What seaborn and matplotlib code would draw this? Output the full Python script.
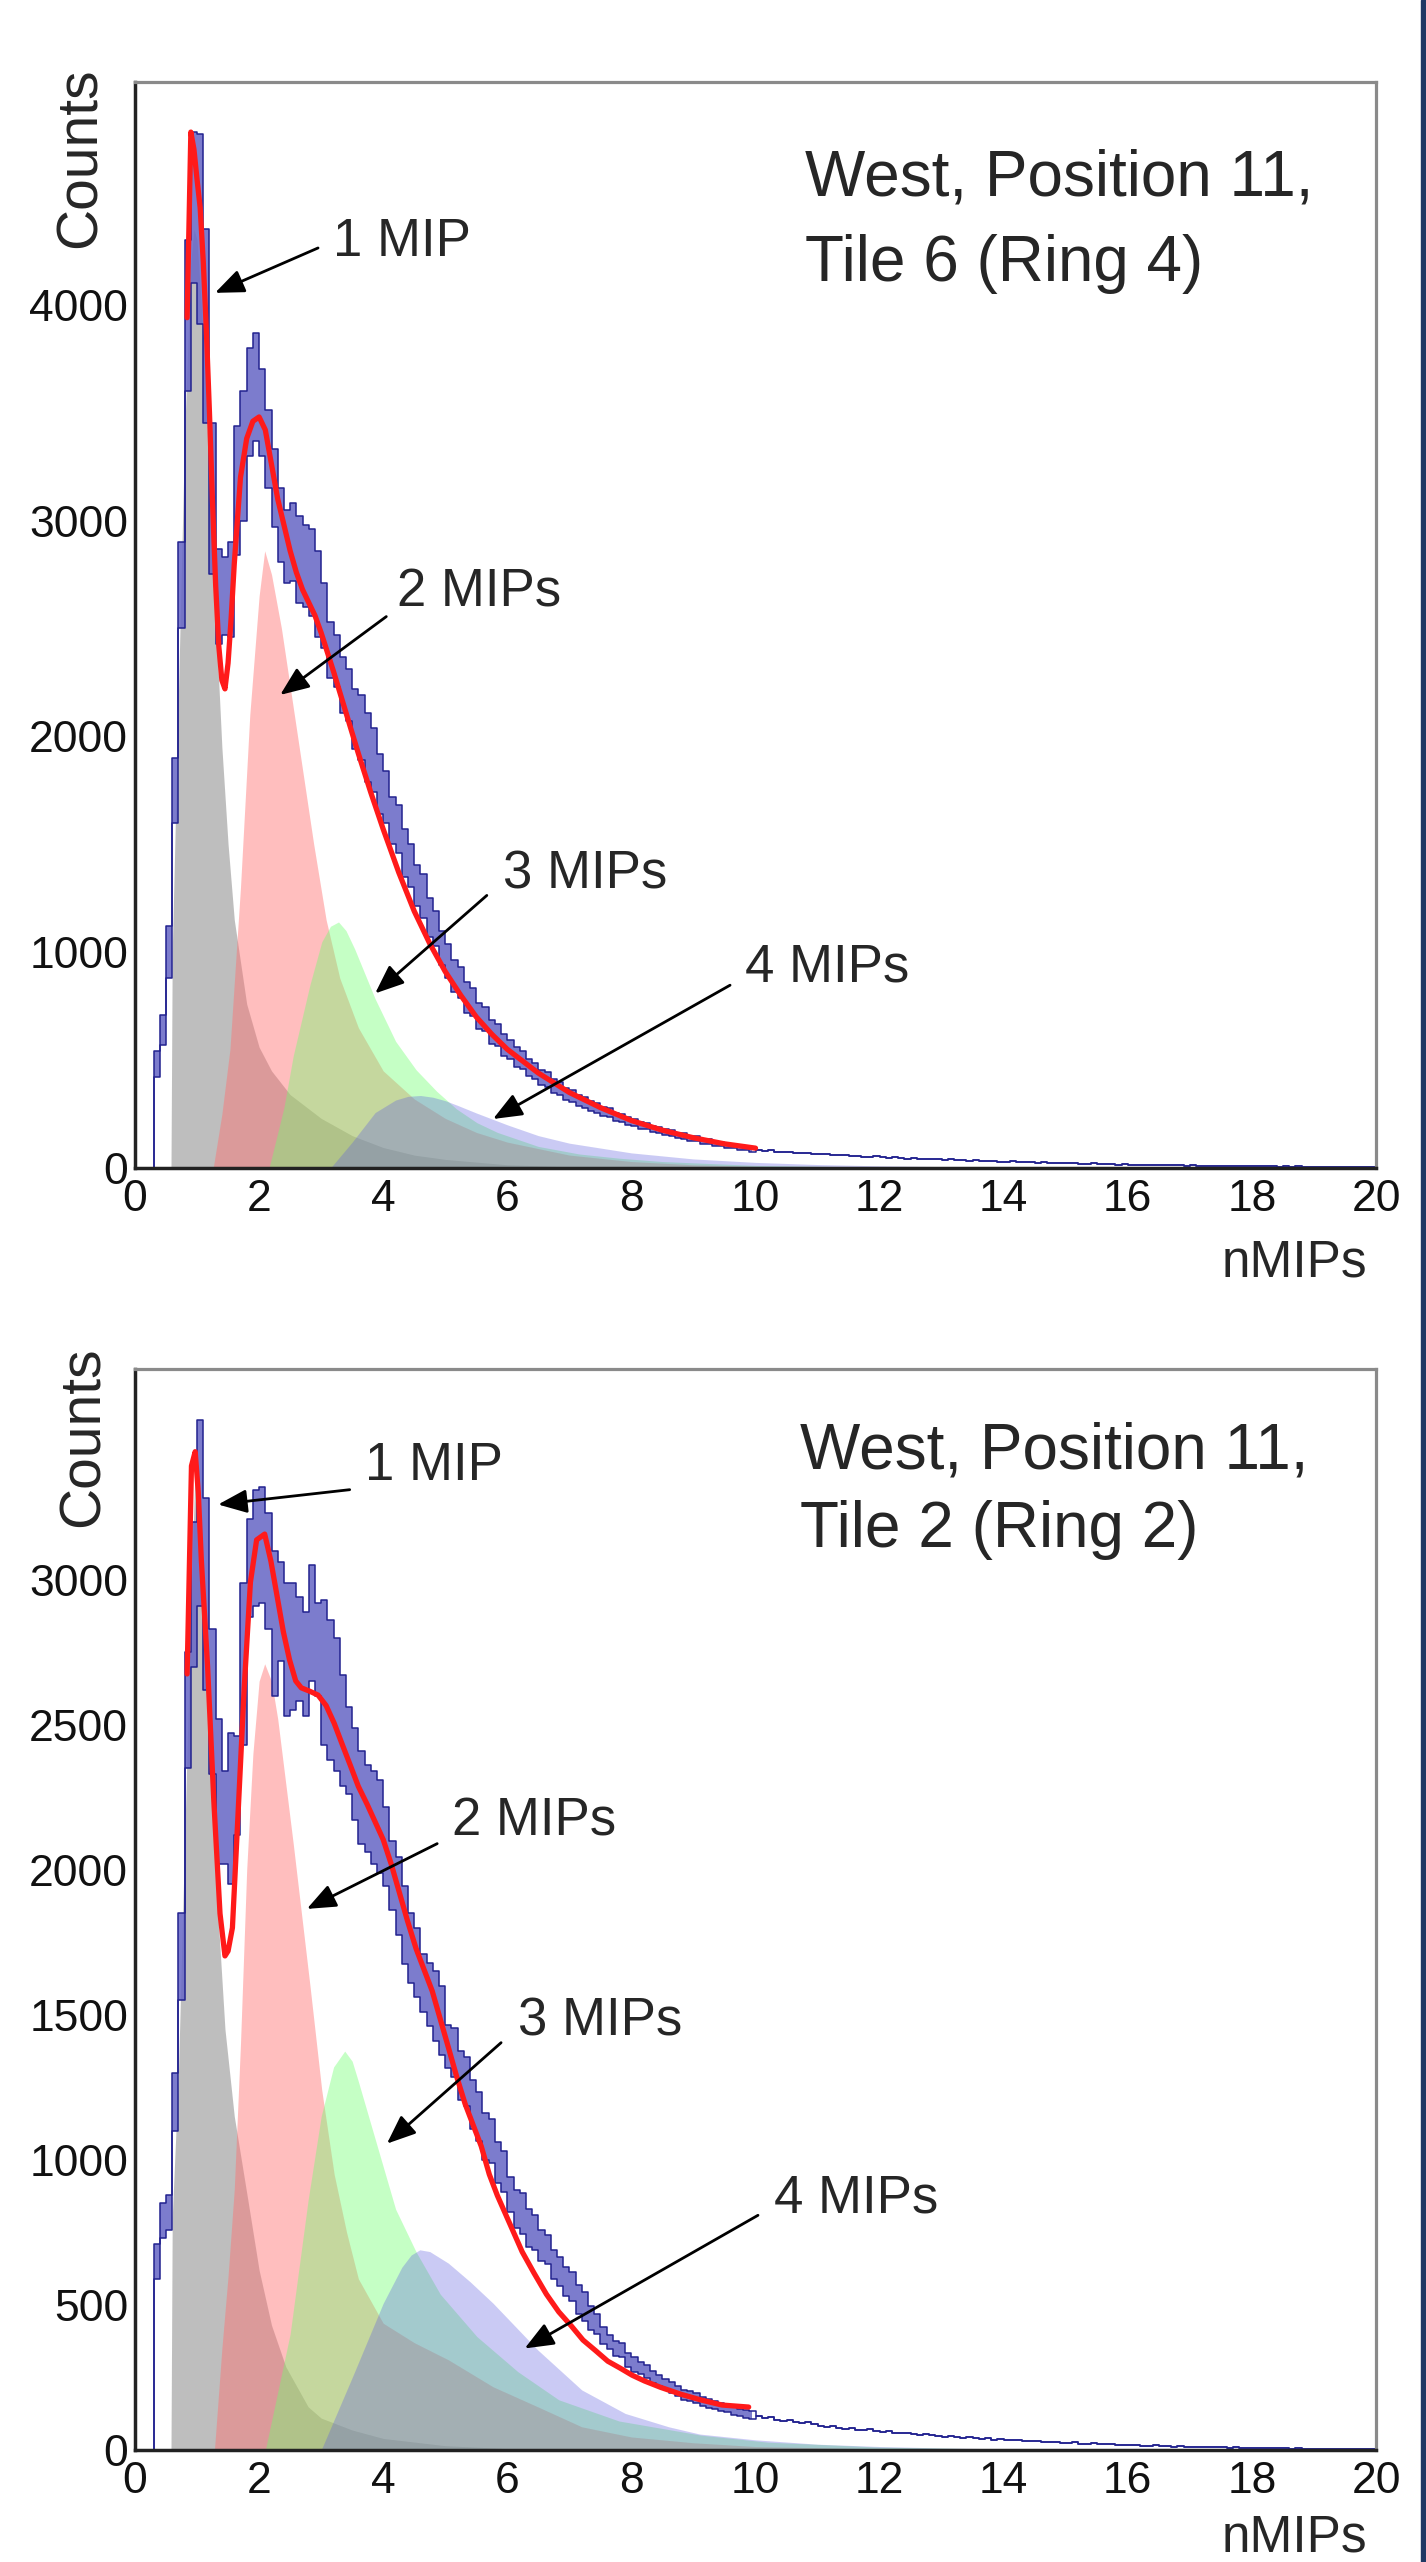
import numpy as np
import pandas as pd
import matplotlib
matplotlib.use("Agg")
import matplotlib.pyplot as plt
from matplotlib.patches import Rectangle
from matplotlib.ticker import MultipleLocator, FixedLocator
import seaborn as sns

sns.set_theme(style="white")
plt.rcParams['font.family'] = ['Liberation Sans', 'DejaVu Sans']

# ---------------- data ----------------
BIN_W = 0.1  # histogram bin width (nMIPs)

# Top panel: West, Position 11, Tile 6 (Ring 4)
counts_top = [
    0, 0, 0, 480, 640, 1000, 1750, 2700, 3950, 4450,
    4350, 3900, 3100, 2650, 2650, 2680, 3140, 3300, 3550, 3620,
    3500, 3330, 3150, 2980, 2880, 2900, 2820, 2790, 2760, 2660,
    2560, 2400, 2350, 2240, 2190, 2080, 2040, 1950, 1890, 1780,
    1720, 1610, 1570, 1460, 1400, 1310, 1260, 1160, 1110, 1020,
    960, 890, 860, 790, 770, 705, 690, 630, 615, 570,
    550, 515, 500, 465, 450, 420, 410, 380, 370, 343,
    335, 314, 305, 286, 279, 262, 255, 237, 232, 217,
    212, 197, 194, 180, 178, 165, 162, 150, 148, 136,
    135, 124, 123, 113, 112, 102, 101, 93, 94, 86,
    84, 80, 82, 76, 73, 75, 70, 68, 71, 65,
    63, 66, 60, 58, 61, 55, 57, 53, 51, 54,
    50, 48, 51, 46, 44, 47, 42, 43, 40, 41,
    38, 40, 36, 37, 34, 35, 33, 31, 33, 30,
    29, 31, 27, 28, 26, 25, 27, 23, 24, 22,
    21, 23, 20, 19, 21, 18, 17, 19, 16, 17,
    15, 16, 14, 15, 13, 14, 12, 13, 12, 11,
    12, 10, 11, 10, 9, 11, 9, 8, 9, 8,
    8, 7, 9, 7, 6, 7, 6, 7, 5, 6,
    5, 6, 5, 4, 5, 4, 5, 4, 3, 4,
]
err_top = [
    0, 0, 0, 60, 70, 120, 150, 200, 350, 350,
    440, 450, 350, 220, 180, 220, 300, 300, 250, 250,
    200, 180, 180, 170, 170, 180, 200, 190, 200, 200,
    150, 130, 120, 130, 120, 140, 150, 160, 150, 140,
    120, 110, 110, 110, 100, 95, 100, 90, 80, 80,
    80, 75, 70, 70, 65, 60, 55, 55, 50, 50,
    45, 45, 40, 40, 38, 36, 34, 32, 30, 28,
    27, 26, 25, 24, 23, 22, 21, 20, 19, 18,
    17, 16, 15, 15, 14, 14, 13, 13, 12, 12,
    12, 11, 11, 11, 10, 10, 10, 10, 10, 10,
]
fit_top_x = [0.84, 0.90, 0.95, 1.00, 1.05, 1.10, 1.15, 1.20, 1.25, 1.30, 1.35, 1.40,
             1.45, 1.50, 1.55, 1.60, 1.70, 1.80, 1.90, 2.00, 2.10, 2.20, 2.30, 2.40,
             2.50, 2.60, 2.70, 2.80, 2.90, 3.00, 3.20, 3.40, 3.60, 3.80, 4.00, 4.25,
             4.50, 4.75, 5.00, 5.25, 5.50, 5.75, 6.00, 6.50, 7.00, 7.50, 8.00, 8.50,
             9.00, 9.50, 10.00]
fit_top_y = [3940, 4800, 4720, 4580, 4450, 4200, 3880, 3500, 3080, 2700, 2420, 2260,
             2220, 2340, 2550, 2800, 3200, 3380, 3460, 3480, 3420, 3260, 3100, 2980,
             2860, 2760, 2680, 2620, 2560, 2480, 2300, 2110, 1920, 1740, 1570, 1370,
             1190, 1040, 910, 800, 700, 620, 550, 440, 350, 280, 220, 175,
             140, 112, 92]
mip1_top_x = [0.58, 0.60, 0.70, 0.80, 0.90, 0.95, 1.00, 1.10, 1.20, 1.30, 1.40, 1.50,
              1.60, 1.80, 2.00, 2.20, 2.50, 3.00, 3.50, 4.00, 4.50, 5.00, 6.00, 7.00, 8.00]
mip1_top_y = [0, 1000, 2200, 3400, 4200, 4350, 4300, 3850, 3200, 2550, 1950, 1500,
              1150, 760, 560, 450, 340, 230, 150, 95, 60, 40, 15, 6, 2]
mip2_top_x = [1.26, 1.40, 1.53, 1.70, 1.85, 2.00, 2.09, 2.20, 2.36, 2.62, 2.88, 3.08,
              3.30, 3.60, 4.00, 4.50, 5.00, 5.50, 6.00, 7.00, 8.00, 9.00, 10.0, 12.0]
mip2_top_y = [0, 250, 550, 1300, 2100, 2650, 2860, 2750, 2500, 2000, 1500, 1150,
              880, 650, 450, 320, 230, 165, 120, 60, 30, 15, 8, 2]
mip3_top_x = [2.16, 2.40, 2.55, 2.82, 3.01, 3.15, 3.28, 3.40, 3.54, 3.87, 4.20, 4.53,
              4.86, 5.18, 5.51, 5.84, 6.50, 7.16, 7.82, 8.50, 10.0, 12.0]
mip3_top_y = [0, 280, 520, 850, 1048, 1120, 1140, 1100, 1015, 784, 587, 455,
              356, 274, 210, 165, 100, 65, 45, 30, 12, 4]
mip4_top_x = [3.15, 3.50, 3.87, 4.20, 4.40, 4.60, 4.80, 5.00, 5.20, 5.50, 6.00, 6.50,
              7.00, 8.00, 9.00, 10.0, 11.0, 12.0, 14.0]
mip4_top_y = [0, 120, 257, 315, 332, 336, 328, 312, 290, 255, 200, 150,
              115, 70, 42, 26, 16, 10, 3]

# Bottom panel: West, Position 11, Tile 2 (Ring 2)
counts_bot = [
    0, 0, 0, 650, 790, 820, 1200, 1700, 2550, 2950,
    3230, 2950, 2580, 2270, 2180, 2210, 2290, 2710, 3040, 3110,
    3120, 3030, 2850, 2890, 2760, 2770, 2760, 2710, 2850, 2760,
    2680, 2620, 2570, 2480, 2410, 2330, 2250, 2210, 2180, 2150,
    2080, 1980, 1910, 1810, 1730, 1680, 1610, 1570, 1530, 1480,
    1390, 1370, 1290, 1270, 1190, 1150, 1080, 1065, 990, 960,
    880, 830, 815, 765, 750, 705, 690, 640, 615, 580,
    565, 520, 495, 455, 435, 395, 372, 350, 345, 310,
    295, 283, 270, 252, 240, 228, 215, 203, 190, 185,
    178, 168, 160, 155, 148, 143, 135, 130, 124, 120,
    118, 112, 115, 105, 100, 104, 95, 92, 96, 88,
    84, 80, 83, 76, 74, 77, 70, 68, 71, 65,
    62, 64, 58, 57, 60, 54, 52, 55, 50, 48,
    46, 49, 44, 42, 45, 40, 39, 41, 36, 37,
    35, 33, 36, 31, 30, 32, 28, 27, 29, 25,
    24, 26, 22, 21, 23, 20, 19, 21, 18, 17,
    16, 18, 15, 14, 16, 13, 14, 12, 13, 11,
    12, 10, 11, 9, 10, 9, 8, 9, 8, 7,
    8, 7, 8, 6, 7, 6, 5, 6, 5, 5,
    4, 5, 4, 4, 3, 4, 3, 3, 4, 3,
]
err_bot = [
    0, 0, 0, 60, 60, 60, 100, 150, 200, 250,
    320, 330, 250, 250, 160, 260, 170, 280, 170, 200,
    200, 200, 250, 170, 230, 220, 180, 180, 200, 160,
    250, 240, 230, 190, 150, 160, 160, 150, 160, 160,
    135, 120, 135, 135, 120, 120, 100, 110, 120, 120,
    75, 85, 85, 85, 85, 85, 80, 75, 70, 70,
    60, 65, 70, 65, 60, 55, 50, 50, 50, 50,
    50, 50, 50, 42, 35, 30, 25, 25, 25, 25,
    25, 22, 22, 20, 18, 18, 18, 18, 18, 17,
    17, 16, 15, 14, 14, 13, 13, 13, 13, 13,
]
fit_bot_x = [0.84, 0.91, 0.97, 1.02, 1.07, 1.17, 1.27, 1.37, 1.45, 1.50, 1.57, 1.66,
             1.76, 1.86, 1.96, 2.09, 2.19, 2.29, 2.39, 2.49, 2.59, 2.68, 2.82, 2.95,
             3.08, 3.21, 3.34, 3.47, 3.60, 3.74, 3.87, 4.00, 4.13, 4.26, 4.39, 4.53,
             4.66, 4.79, 4.92, 5.05, 5.18, 5.32, 5.45, 5.58, 5.71, 5.84, 6.04, 6.24,
             6.43, 6.63, 6.83, 7.03, 7.22, 7.42, 7.62, 7.82, 8.01, 8.21, 8.47, 8.80,
             9.13, 9.46, 9.89]
fit_bot_y = [2675, 3392, 3441, 3300, 3064, 2700, 2238, 1849, 1703, 1720, 1800, 2189,
             2627, 2991, 3137, 3157, 3064, 2943, 2821, 2724, 2651, 2627, 2615, 2602,
             2566, 2505, 2432, 2360, 2287, 2226, 2165, 2104, 2019, 1922, 1825, 1728,
             1655, 1582, 1485, 1388, 1290, 1193, 1120, 1047, 950, 877, 780, 683,
             610, 537, 476, 428, 379, 343, 306, 282, 258, 238, 216, 192,
             172, 155, 148]
mip1_bot_x = [0.58, 0.60, 0.70, 0.80, 0.90, 0.97, 1.05, 1.15, 1.25, 1.35, 1.45, 1.60,
              1.82, 2.00, 2.20, 2.43, 2.79, 3.00, 3.50, 4.00, 5.00, 6.00, 7.00]
mip1_bot_y = [0, 800, 1300, 2100, 2900, 3400, 3250, 2750, 2250, 1800, 1450, 1150,
              860, 620, 430, 287, 149, 110, 69, 40, 15, 5, 2]
mip2_bot_x = [1.28, 1.40, 1.50, 1.60, 1.70, 1.80, 1.90, 2.00, 2.09, 2.20, 2.30, 2.55,
              2.82, 3.01, 3.21, 3.41, 3.60, 4.00, 4.50, 5.05, 5.77, 6.49, 7.20, 8.00,
              9.00, 10.0, 12.0]
mip2_bot_y = [0, 350, 600, 900, 1400, 2000, 2400, 2650, 2710, 2650, 2520, 2090,
              1600, 1240, 950, 750, 590, 437, 370, 311, 218, 149, 80, 45,
              25, 12, 4]
mip3_bot_x = [2.10, 2.50, 2.79, 3.00, 3.20, 3.38, 3.50, 3.60, 3.87, 4.20, 4.53, 4.92,
              5.51, 6.17, 6.83, 7.80, 9.13, 10.2, 12.0, 14.0]
mip3_bot_y = [0, 400, 862, 1150, 1320, 1375, 1340, 1270, 1072, 830, 683, 537,
              391, 270, 173, 100, 51, 27, 10, 3]
mip4_bot_x = [3.00, 3.50, 4.00, 4.30, 4.45, 4.59, 4.75, 5.05, 5.40, 5.77, 6.49, 7.20,
              7.90, 8.60, 9.10, 10.0, 11.0, 12.0, 13.0, 14.0, 15.0]
mip4_bot_y = [0, 250, 506, 630, 672, 690, 684, 644, 580, 506, 345, 207,
              126, 80, 55, 35, 20, 12, 7, 4, 2]

x_tick_labels = ["0", "2", "4", "6", "8", "10", "12", "14", "16", "18", "20"]
y_ticks_top = [0, 1000, 2000, 3000, 4000, 5000]
y_labels_top = ["0", "1000", "2000", "3000", "4000", ""]
y_ticks_bot = [0, 500, 1000, 1500, 2000, 2500, 3000, 3500]
y_labels_bot = ["0", "500", "1000", "1500", "2000", "2500", "3000", ""]

panels = [
    dict(counts=counts_top, err=err_top, fx=fit_top_x, fy=fit_top_y,
         comps=[(mip1_top_x, mip1_top_y), (mip2_top_x, mip2_top_y),
                (mip3_top_x, mip3_top_y), (mip4_top_x, mip4_top_y)],
         ymax=5032, yticks=y_ticks_top, ylabels=y_labels_top, yminor=200,
         title=("West, Position 11,", "Tile 6 (Ring 4)"), title_x=10.8,
         title_y=(4504, 4110),
         labels=[("1 MIP", (3.19, 4226), (2.95, 4263), (1.29, 4055)),
                 ("2 MIPs", (4.22, 2604), (4.05, 2555), (2.34, 2192)),
                 ("3 MIPs", (5.93, 1295), (5.67, 1263), (3.87, 809)),
                 ("4 MIPs", (9.83, 863), (9.59, 847), (5.77, 227))],
         rect=[135/1426, (2562-1168)/2562, 1241/1426, 1086/2562],
         counts_lbl=(-0.0435, 1.0129), nmips_y=-0.100),
    dict(counts=counts_bot, err=err_bot, fx=fit_bot_x, fy=fit_bot_y,
         comps=[(mip1_bot_x, mip1_bot_y), (mip2_bot_x, mip2_bot_y),
                (mip3_bot_x, mip3_bot_y), (mip4_bot_x, mip4_bot_y)],
         ymax=3726, yticks=y_ticks_bot, ylabels=y_labels_bot, yminor=100,
         title=("West, Position 11,", "Tile 2 (Ring 2)"), title_x=10.72,
         title_y=(3382, 3112),
         labels=[("1 MIP", (3.71, 3345), (3.46, 3310), (1.34, 3259)),
                 ("2 MIPs", (5.11, 2118), (4.87, 2090), (2.77, 1865)),
                 ("3 MIPs", (6.17, 1427), (5.90, 1404), (4.06, 1056)),
                 ("4 MIPs", (10.3, 820), (10.04, 809), (6.28, 350))],
         rect=[135/1426, (2562-2450)/2562, 1241/1426, 1081/2562],
         counts_lbl=(-0.041, 1.0204), nmips_y=-0.094),
]

comp_styles = [("#7f7f7f", 0.50), ("#ff7070", 0.45), ("#70ff70", 0.40), ("#6060e0", 0.33)]

fig = plt.figure(figsize=(14.26, 25.62), dpi=100)
fig.patch.set_facecolor("white")

for p in panels:
    ax = fig.add_axes(p["rect"])
    ax.set_facecolor("white")
    counts = np.asarray(p["counts"], dtype=float)
    centers = BIN_W * (np.arange(len(counts)) + 0.5)
    nerr = len(p["err"])
    err = np.asarray(p["err"], dtype=float)

    # component fills
    for (cx, cy), (col, al) in zip(p["comps"], comp_styles):
        ax.fill_between(cx, 0, cy, color=col, alpha=al, linewidth=0, zorder=1)

    # histogram error boxes
    lo = counts.copy()
    hi = counts.copy()
    lo[:nerr] = counts[:nerr] - err
    hi[:nerr] = counts[:nerr] + err
    ax.fill_between(centers[:nerr], lo[:nerr], hi[:nerr], step="mid",
                    color="#6a6ac6", alpha=0.88, linewidth=0, zorder=2)
    dfh = pd.DataFrame({"x": np.concatenate([[0.0], centers, [20.0]]),
                        "hi": np.concatenate([[0.0], hi, [hi[-1]]]),
                        "lo": np.concatenate([[0.0], lo, [lo[-1]]])})
    sns.lineplot(data=dfh, x="x", y="hi", ax=ax, drawstyle="steps-mid",
                 color="#22228f", lw=1.1, estimator=None, sort=False, zorder=3)
    sns.lineplot(data=dfh, x="x", y="lo", ax=ax, drawstyle="steps-mid",
                 color="#22228f", lw=1.1, estimator=None, sort=False, zorder=3)

    # total fit
    dff = pd.DataFrame({"x": p["fx"], "y": p["fy"]})
    sns.lineplot(data=dff, x="x", y="y", ax=ax, color="#ff1a1a", lw=3.8,
                 estimator=None, sort=False, zorder=4)

    ax.set_xlim(0, 20)
    ax.set_ylim(0, p["ymax"])
    ax.set_xlabel("")
    ax.set_ylabel("")

    ax.xaxis.set_major_locator(FixedLocator(range(0, 21, 2)))
    ax.set_xticklabels(x_tick_labels)
    ax.xaxis.set_minor_locator(MultipleLocator(0.5))
    ax.yaxis.set_major_locator(FixedLocator(p["yticks"]))
    ax.set_yticklabels(p["ylabels"])
    ax.yaxis.set_minor_locator(MultipleLocator(p["yminor"]))

    ax.tick_params(axis="both", which="both", direction="in", top=False, right=False,
                   colors="#444444", labelcolor="#111111", width=2.0, labelsize=32)
    ax.tick_params(axis="x", which="major", length=22, pad=8)
    ax.tick_params(axis="x", which="minor", length=11)
    ax.tick_params(axis="y", which="major", length=29, pad=5)
    ax.tick_params(axis="y", which="minor", length=14)

    for side in ["left", "bottom"]:
        ax.spines[side].set_color("#222222")
        ax.spines[side].set_linewidth(2.5)
    for side in ["top", "right"]:
        ax.spines[side].set_color("#8a8a8a")
        ax.spines[side].set_linewidth(2.3)
    for s in ax.spines.values():
        s.set_zorder(6)

    # axis titles
    ax.text(p["counts_lbl"][0], p["counts_lbl"][1], "Counts", rotation=90,
            ha="center", va="top", fontsize=41, transform=ax.transAxes)
    ax.text(0.993, p["nmips_y"], "nMIPs", ha="right", va="baseline", fontsize=37,
            transform=ax.transAxes)

    # panel title
    ax.text(p["title_x"], p["title_y"][0], p["title"][0], fontsize=46,
            ha="left", va="baseline", zorder=7)
    ax.text(p["title_x"], p["title_y"][1], p["title"][1], fontsize=46,
            ha="left", va="baseline", zorder=7)

    # MIP labels with arrows
    for txt, tpos, tail, head in p["labels"]:
        ax.text(tpos[0], tpos[1], txt, fontsize=38, ha="left", va="baseline", zorder=7)
        ax.annotate("", xy=head, xytext=tail,
                    arrowprops=dict(arrowstyle="-|>,head_length=1.1,head_width=0.45",
                                    color="black", lw=2.0, shrinkA=0, shrinkB=0,
                                    mutation_scale=16),
                    zorder=7)

# dark blue stripe at the right edge
fig.add_artist(Rectangle((1420.5/1426, 0), 5.5/1426, 1, transform=fig.transFigure,
                         color="#1f3864", zorder=10))

fig.savefig("out.png", dpi=100, facecolor="white")
